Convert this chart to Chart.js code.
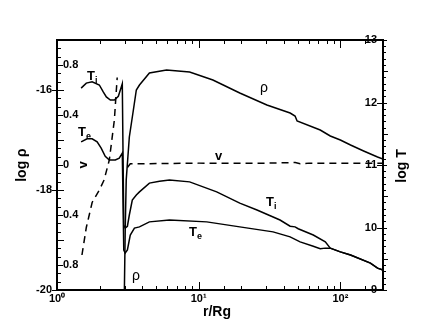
<!DOCTYPE html>
<html><head><meta charset="utf-8">
<script src="https://cdn.jsdelivr.net/npm/chart.js@4"></script>
<style>html,body{margin:0;padding:0;background:#fff}canvas{display:block}</style>
</head><body>
<canvas id="c" width="436" height="327"></canvas>
<script>
// ---- data ----
const rhoR   = [2.99, 3.03, 3.08, 3.24, 3.46, 3.63, 3.82, 4.49, 5.93, 8.63, 12.6, 19.5, 30.3, 44.2, 47.9, 49.5, 72.1, 84.9, 100, 118, 146, 183, 200];
const rhoLog = [-20, -18.8, -17.8, -16.94, -16.4, -16.0, -15.9, -15.66, -15.6, -15.64, -15.8, -16.06, -16.3, -16.46, -16.52, -16.62, -16.8, -16.92, -17.0, -17.1, -17.22, -17.34, -17.38];

const tiR   = [1.48, 1.61, 1.77, 1.99, 2.12, 2.23, 2.38, 2.54, 2.71, 2.80, 2.89, 2.96, 3.03, 3.14, 3.24, 3.40, 3.63, 3.82, 4.49, 5.29, 6.22, 8.63, 13.4, 19.5, 25.8, 37.5, 44.2, 47.9, 50.4, 64.4, 78.3, 84.9, 100, 118, 163, 183, 200];
const tiLog = [12.23, 12.31, 12.33, 12.28, 12.17, 12.09, 12.04, 12.04, 12.10, 12.20, 12.30, 10.04, 9.99, 10.02, 10.20, 10.44, 10.52, 10.57, 10.71, 10.74, 10.76, 10.73, 10.57, 10.39, 10.28, 10.12, 10.02, 10.01, 9.98, 9.88, 9.77, 9.67, 9.61, 9.56, 9.43, 9.35, 9.32];

const teR   = [1.48, 1.63, 1.77, 1.92, 2.05, 2.19, 2.34, 2.58, 2.75, 2.89, 2.96, 3.03, 3.14, 3.29, 3.52, 3.82, 4.49, 6.22, 11.4, 19.5, 33.5, 44.2, 52.0, 64.4, 72.1, 78.3, 84.9, 100, 118, 163, 183, 200];
const teLog = [11.37, 11.42, 11.42, 11.37, 11.27, 11.14, 11.08, 11.08, 11.11, 11.19, 9.64, 9.59, 9.64, 9.88, 9.99, 10.01, 10.09, 10.12, 10.09, 10.01, 9.93, 9.85, 9.77, 9.70, 9.66, 9.67, 9.67, 9.61, 9.56, 9.43, 9.35, 9.32];

const vR   = [1.50, 1.61, 1.77, 1.99, 2.15, 2.34, 2.54, 2.66, 2.8, 3.14, 3.29, 4.0, 10, 30, 48, 52, 60, 100, 200];
const vVal = [-0.72, -0.50, -0.30, -0.20, -0.12, 0.04, 0.36, 0.70, null, -0.02, 0.01, 0.01, 0.015, 0.015, 0.02, 0.01, 0.015, 0.015, 0.015];

const vTickVals = [-0.8, -0.4, 0, 0.4, 0.8];
const sup = ['\u2070', '\u00B9', '\u00B2', '\u00B3'];

const FONT = "'Liberation Sans', Arial, Helvetica, sans-serif";
Chart.defaults.font.family = FONT;
Chart.defaults.color = '#000';

const mk = (rs, vs) => rs.map((r, i) => ({x: r, y: vs[i]}));
const lineDs = (label, data, axis, extra) => Object.assign({
  label, data, yAxisID: axis, borderColor: '#000', borderWidth: 1.5,
  pointRadius: 0, tension: 0, fill: false, spanGaps: false
}, extra || {});

const noGrid = {display: false, drawTicks: false};
const tickFont = {size: 11, weight: 'bold'};

const framePlugin = {
  id: 'frame',
  afterDatasetsDraw(chart) {
    const {ctx, chartArea: a, scales} = chart;
    ctx.save();
    ctx.strokeStyle = '#000';
    ctx.lineWidth = 1;
    const seg = (x1, y1, x2, y2) => { ctx.beginPath(); ctx.moveTo(x1, y1); ctx.lineTo(x2, y2); ctx.stroke(); };
    // x ticks (inward, bottom & top)
    const sx = scales.x;
    sx.ticks.forEach(t => {
      const px = Math.round(sx.getPixelForValue(t.value)) + 0.5;
      const l = Math.log10(t.value);
      const major = Math.abs(l - Math.round(l)) < 1e-9;
      const L = major ? 8 : 4;
      seg(px, a.bottom, px, a.bottom - L);
      seg(px, a.top, px, a.top + L);
    });
    // rho ticks
    const sr = scales.yRho;
    for (let k = 0; k <= 30; k++) {
      const v = -20 + k / 6;
      const py = Math.round(sr.getPixelForValue(v)) + 0.5;
      if (k % 6 === 0) {
        seg(a.left, py, a.left + 7, py);
        if (k % 12 === 0) seg(a.left - 5, py, a.left, py);
      } else {
        seg(a.left, py, a.left + 4, py);
      }
    }
    // v ticks
    const sv = scales.yV;
    sv.ticks.forEach(t => {
      const py = Math.round(sv.getPixelForValue(t.value)) + 0.5;
      seg(a.left, py, a.left + 6, py);
    });
    // T ticks
    const st = scales.yT;
    for (let k = 0; k <= 40; k++) {
      const v = 9 + k / 10;
      const py = Math.round(st.getPixelForValue(v)) + 0.5;
      if (k % 10 === 0) seg(a.right - 6, py, a.right + 4, py);
      else if (k % 5 === 0) seg(a.right, py, a.right + 5, py);
      else seg(a.right, py, a.right + 3, py);
    }
    // frame
    ctx.lineWidth = 2;
    ctx.strokeRect(a.left, a.top, a.width, a.height);
    ctx.restore();
  },
  afterDraw(chart) {
    const {ctx} = chart;
    ctx.save();
    ctx.fillStyle = '#000';
    ctx.textBaseline = 'alphabetic';
    ctx.textAlign = 'left';
    const tsub = (x, y, s) => {
      ctx.font = 'bold 13px ' + FONT;
      ctx.fillText('T', x, y);
      const w = ctx.measureText('T').width;
      ctx.font = 'bold 9px ' + FONT;
      ctx.fillText(s, x + w, y + 3);
    };
    tsub(87, 80, 'i');
    tsub(78, 136, 'e');
    tsub(266, 206, 'i');
    tsub(189, 236, 'e');
    ctx.font = 'bold 13px ' + FONT;
    ctx.fillText('v', 215, 160);
    ctx.font = '14px ' + FONT;
    ctx.fillText('\u03C1', 260, 92);
    ctx.fillText('\u03C1', 132, 280);
    // rotated texts
    const rot = (txt, x, y, font) => {
      ctx.save();
      ctx.translate(x, y);
      ctx.rotate(-Math.PI / 2);
      ctx.font = font;
      ctx.textAlign = 'center';
      ctx.textBaseline = 'middle';
      ctx.fillText(txt, 0, 0);
      ctx.restore();
    };
    rot('v', 83, 165, 'bold 13px ' + FONT);
    rot('log \u03C1', 22, 165, 'bold 14px ' + FONT);
    rot('log T', 402, 166, 'bold 14px ' + FONT);
    ctx.font = 'bold 14px ' + FONT;
    ctx.textAlign = 'center';
    ctx.textBaseline = 'middle';
    ctx.fillText('r/Rg', 217, 312);
    ctx.restore();
  }
};

new Chart(document.getElementById('c'), {
  type: 'line',
  data: {
    datasets: [
      lineDs('rho', mk(rhoR, rhoLog), 'yRho'),
      lineDs('Ti', mk(tiR, tiLog), 'yT'),
      lineDs('Te', mk(teR, teLog), 'yT'),
      lineDs('v', mk(vR, vVal), 'yV', {borderDash: [7, 5]})
    ]
  },
  options: {
    responsive: false,
    animation: false,
    devicePixelRatio: 1,
    events: [],
    parsing: true,
    layout: {padding: {top: 40, left: 0, right: 0, bottom: 0}},
    plugins: {legend: {display: false}, tooltip: {enabled: false}},
    scales: {
      x: {
        type: 'logarithmic', position: 'bottom', min: 1, max: 200,
        afterFit(s) { s.height = 37; },
        grid: noGrid, border: {display: false},
        ticks: {
          autoSkip: false, maxRotation: 0, minRotation: 0, padding: 2, font: tickFont,
          callback(v) {
            const l = Math.log10(v);
            return Math.abs(l - Math.round(l)) < 1e-9 ? '10' + sup[Math.round(l)] : '';
          }
        }
      },
      yRho: {
        position: 'left', min: -20, max: -15, weight: 1,
        afterFit(s) { s.width = 57; },
        grid: noGrid, border: {display: false},
        ticks: {stepSize: 1, padding: 5, font: tickFont,
          callback(v) { return (Math.round(v) % 2 === 0) ? String(v) : ''; }}
      },
      yV: {
        position: 'left', min: -1, max: 1, weight: 0,
        afterFit(s) { s.width = 0; },
        afterBuildTicks(s) { s.ticks = vTickVals.map(v => ({value: v})); },
        grid: noGrid, border: {display: false},
        ticks: {mirror: true, padding: 6, font: tickFont,
          callback(v) { const a = Math.abs(v); return a < 1e-9 ? '0' : a.toFixed(1); }}
      },
      yT: {
        position: 'right', min: 9, max: 13,
        afterFit(s) { s.width = 53; },
        grid: noGrid, border: {display: false},
        ticks: {stepSize: 1, mirror: true, padding: -6, font: tickFont}
      }
    }
  },
  plugins: [framePlugin]
});
</script>
</body></html>
